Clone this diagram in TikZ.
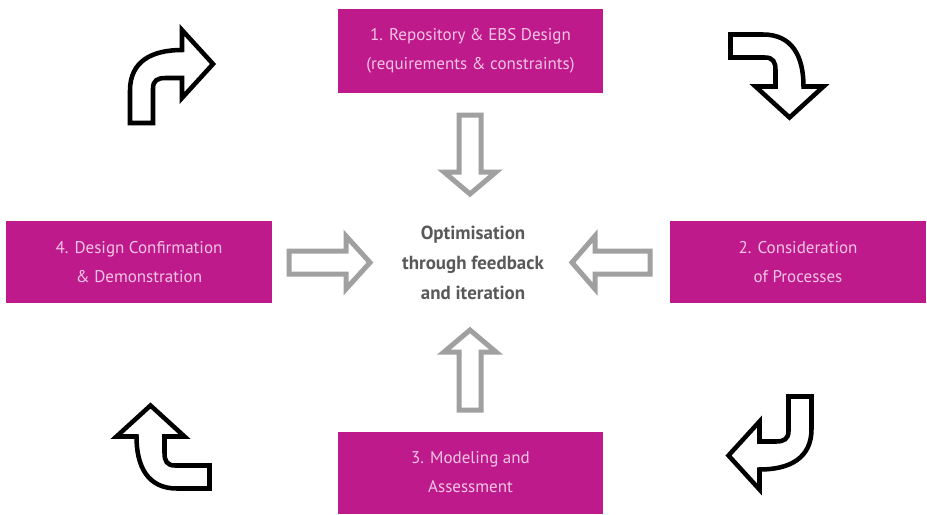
\documentclass[tikz,border=0pt]{standalone}
\usepackage{fontspec}
\setmainfont{PT Sans}
\usepackage{tikz}
\usetikzlibrary{positioning}
\usepackage{xcolor}

\definecolor{boxmagenta}{RGB}{190,26,139}
\definecolor{boxtext}{RGB}{242,196,228}
\definecolor{arrowgray}{RGB}{160,160,160}
\definecolor{centregray}{RGB}{89,89,89}

\tikzset{
  stagebox/.style={fill=boxmagenta, text=boxtext, inner sep=0pt, align=center,
    font=\fontsize{12.75}{21.75}\selectfont},
  grayarrow/.style={draw=arrowgray, fill=white, line width=3.75pt, line join=miter},
  blackarrow/.style={draw=black, fill=white, line width=3.4pt, line join=miter},
  turnarrow/.pic={
    \draw[blackarrow] (-41.5,46.5)--(-18.5,46.5)--(-18.5,12)
      .. controls (-18.5,4) and (-14,1.5) .. (-6,1.5)--(10.5,1.5)--(10.5,21.5)
      --(41.5,-12.5)--(10.5,-46.5)--(10.5,-26.5)
      .. controls (-20,-26.5) and (-41.5,-15) .. (-41.5,14)--cycle;
  }
}

\begin{document}
\begin{tikzpicture}[x=0.75pt, y=-0.75pt]
\useasboundingbox (0,0) rectangle (927,514);

%%%%%%%%%% stages %%%%%%%%%%
{
\node[stagebox, minimum width=198.75pt, minimum height=63pt] (repo) at (470.5,51)
  {1. Repository \& EBS Design\\(requirements \& constraints)};
\node[stagebox, minimum width=192pt, minimum height=61.5pt] (process) at (798,262)
  {2. Consideration\\of Processes};
\node[stagebox, minimum width=198.75pt, minimum height=61.5pt] (model) at (470.5,472.5)
  {3. Modeling and\\Assessment};
\node[stagebox, minimum width=199.5pt, minimum height=61.5pt] (confirm) at (139,262)
  {4. Design Confirmation\\\& Demonstration};
}

%%%%%%%%%% centre %%%%%%%%%%
{
\node[text=centregray, align=center, font=\bfseries\fontsize{14.2}{22.5}\selectfont] (centre) at (473,263)
  {Optimisation\\through feedback\\and iteration};
}

%%%%%%%%%% gray arrows into the centre %%%%%%%%%%
{
\draw[grayarrow] (459,115)--++(22,0)--++(0,57)--++(15,0)--++(-26,22)--++(-26,-22)--++(15,0)--cycle;
\draw[grayarrow] (459,410)--++(22,0)--++(0,-58)--++(15,0)--++(-26,-22)--++(-26,22)--++(15,0)--cycle;
\draw[grayarrow] (289,251)--++(57,0)--++(0,-15)--++(24,26.5)--++(-24,26.5)--++(0,-15)--++(-57,0)--cycle;
\draw[grayarrow] (650,251)--++(-55,0)--++(0,-15)--++(-23,26.5)--++(23,26.5)--++(0,-15)--++(55,0)--cycle;
}

%%%%%%%%%% black turning arrows %%%%%%%%%%
{
\pic at (171.5,76.5) {turnarrow};
\pic[rotate=-90] at (777,76) {turnarrow};
\pic[rotate=180] at (770,443) {turnarrow};
\pic[rotate=90] at (163,447) {turnarrow};
}

\end{tikzpicture}
\end{document}
